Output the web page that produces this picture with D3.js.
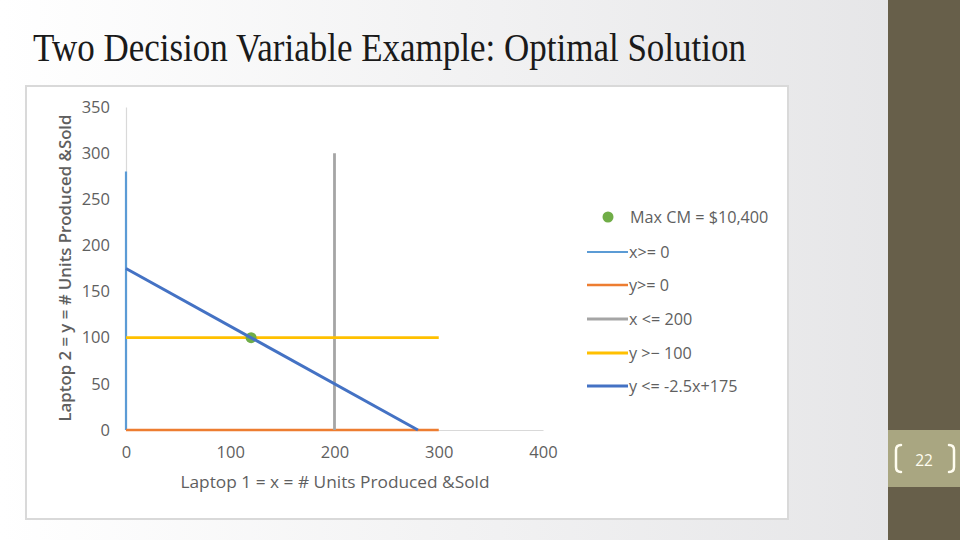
<!DOCTYPE html>
<html><head><meta charset="utf-8">
<script src="https://cdn.jsdelivr.net/npm/d3@7/dist/d3.min.js"></script>
<style>body{margin:0;padding:0;overflow:hidden;background:#fff}svg{display:block}</style>
</head><body>
<script>
const titleText = "Two Decision Variable Example: Optimal Solution";
const xAxisTitle = "Laptop 1 = x = # Units Produced &Sold";
const yAxisTitle = "Laptop 2 = y = # Units Produced &Sold";
const xTicks = [0, 100, 200, 300, 400];
const yTicks = [0, 50, 100, 150, 200, 250, 300, 350];
const seriesNames = ["x>= 0", "y>= 0", "x <= 200", "y >− 100", "y <= -2.5x+175"];
const seriesColors = ["#5B9BD5", "#ED7D31", "#A5A5A5", "#FFC000", "#4472C4"];
const seriesX = [[0, 0], [0, 300], [200, 200], [0, 300], [0, 280]];
const seriesY = [[0, 280], [0, 0], [0, 300], [100, 100], [175, 0]];
const pointName = "Max CM = $10,400";
const pointColor = "#70AD47";
const pointX = [120];
const pointY = [100];
const pageNumber = "22";

const W = 960, H = 540;
const svg = d3.select("body").append("svg").attr("width", W).attr("height", H);
const defs = svg.append("defs");
const grad = defs.append("linearGradient").attr("id", "bg").attr("x1", 0).attr("x2", 1).attr("y1", 0).attr("y2", 0);
grad.append("stop").attr("offset", "0%").attr("stop-color", "#ffffff");
grad.append("stop").attr("offset", "100%").attr("stop-color", "#e4e4e6");
svg.append("rect").attr("width", W).attr("height", H).attr("fill", "url(#bg)");

// right bar
svg.append("rect").attr("x", 888).attr("y", 0).attr("width", 72).attr("height", H).attr("fill", "#675F4A");
svg.append("rect").attr("x", 888).attr("y", 430).attr("width", 72).attr("height", 57).attr("fill", "#A9A681");
const br = svg.append("g").attr("fill", "none").attr("stroke", "#FFFDF0").attr("stroke-width", 2.5).attr("stroke-linecap", "round");
br.append("path").attr("d", "M901,445 Q896,445 896,450 L896,467 Q896,472 901,472");
br.append("path").attr("d", "M949,445 Q954,445 954,450 L954,467 Q954,472 949,472");
svg.append("text").attr("x", 924).attr("y", 466).attr("text-anchor", "middle")
  .attr("font-family", "Open Sans").attr("font-size", 15.5).attr("fill", "#FFFDF0").text(pageNumber);

// title
svg.append("text").attr("x", 33).attr("y", 61)
  .attr("font-family", "Liberation Serif").attr("font-size", 39).attr("fill", "#1a1a1a")
  .attr("textLength", 713).attr("lengthAdjust", "spacingAndGlyphs").text(titleText);

// chart box
svg.append("rect").attr("x", 26).attr("y", 86).attr("width", 762).attr("height", 433)
  .attr("fill", "#ffffff").attr("stroke", "#D9D9D9").attr("stroke-width", 2);

const x = d3.scaleLinear().domain([0, 400]).range([126, 543]);
const y = d3.scaleLinear().domain([0, 350]).range([430, 107]);
const tickColor = "#5f5f5f";

const gx = svg.append("g").attr("transform", "translate(0,430)")
  .call(d3.axisBottom(x).tickValues(xTicks).tickSize(0).tickPadding(16).tickFormat(d3.format("d")));
gx.select(".domain").attr("stroke", "#D9D9D9").attr("stroke-width", 1.2);
gx.selectAll("text").attr("font-family", "Open Sans").attr("font-size", 16.5).attr("fill", tickColor);

const gy = svg.append("g").attr("transform", "translate(126,0)")
  .call(d3.axisLeft(y).tickValues(yTicks).tickSize(0).tickPadding(16).tickFormat(d3.format("d")));
gy.select(".domain").attr("stroke", "#D9D9D9").attr("stroke-width", 1.2);
gy.selectAll("text").attr("font-family", "Open Sans").attr("font-size", 16.5).attr("fill", tickColor);

// axis titles
svg.append("text").attr("x", 335).attr("y", 488).attr("text-anchor", "middle")
  .attr("font-family", "Open Sans").attr("font-size", 17).attr("fill", tickColor)
  .attr("textLength", 309).attr("lengthAdjust", "spacingAndGlyphs").text(xAxisTitle);
svg.append("text").attr("transform", "translate(71,268) rotate(-90)").attr("text-anchor", "middle")
  .attr("font-family", "Open Sans").attr("font-weight", 600).attr("font-size", 17).attr("fill", tickColor)
  .attr("textLength", 307).attr("lengthAdjust", "spacingAndGlyphs").text(yAxisTitle);

// series
const line = d3.line().x(d => x(d[0])).y(d => y(d[1]));
const widths = [2.2, 2.6, 2.8, 2.8, 3];
const plot = svg.append("g");
function drawSeries(i) {
  const pts = seriesX[i].map((v, j) => [v, seriesY[i][j]]);
  plot.append("path").datum(pts).attr("d", line).attr("fill", "none")
    .attr("stroke", seriesColors[i]).attr("stroke-width", widths[i]);
}
[0, 1, 2, 3].forEach(drawSeries);
plot.selectAll("circle.pt").data(pointX.map((v, i) => [v, pointY[i]])).enter().append("circle")
  .attr("class", "pt").attr("cx", d => x(d[0])).attr("cy", d => y(d[1])).attr("r", 5.5).attr("fill", pointColor);
drawSeries(4);

// legend
const lg = svg.append("g").attr("font-family", "Open Sans").attr("font-size", 16.2).attr("fill", tickColor);
lg.append("circle").attr("cx", 608).attr("cy", 217).attr("r", 5.5).attr("fill", pointColor);
lg.append("text").attr("x", 630).attr("y", 223).text(pointName);
const legY = [252, 285, 319, 353, 386];
seriesNames.forEach((n, i) => {
  lg.append("line").attr("x1", 587).attr("x2", 628).attr("y1", legY[i]).attr("y2", legY[i])
    .attr("stroke", seriesColors[i]).attr("stroke-width", widths[i]);
  lg.append("text").attr("x", 629).attr("y", legY[i] + 6).text(n);
});
</script>
</body></html>
